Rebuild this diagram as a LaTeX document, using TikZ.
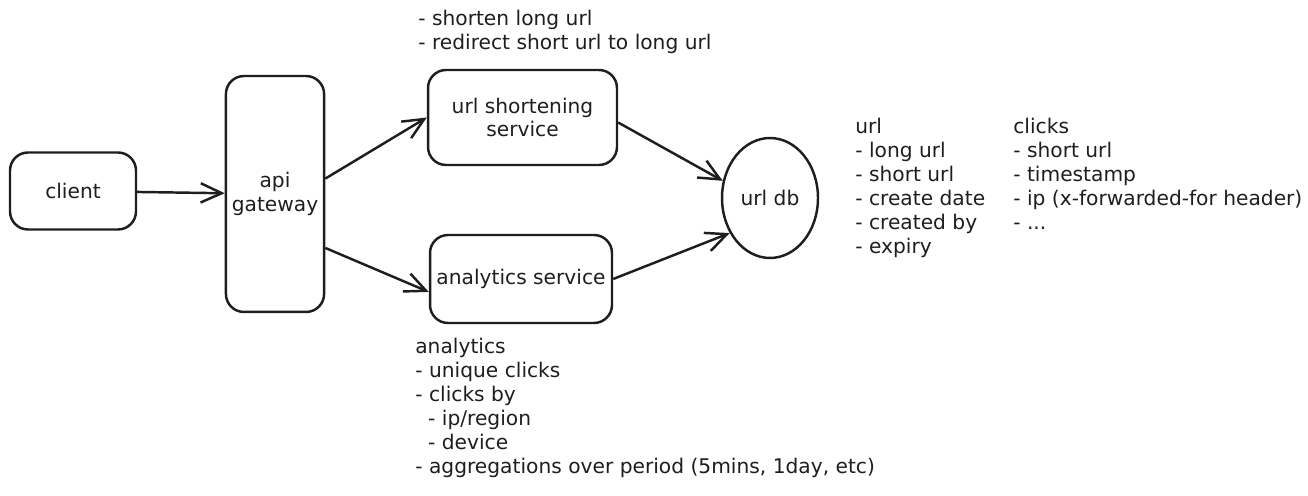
\documentclass[tikz,border=0pt]{standalone}
\usepackage{fontspec}
\setmainfont{DejaVu Sans}
\usepackage{xcolor}
\definecolor{netve}{HTML}{1E1E1E}
\def\mauve{netve}
\def\chu{\fontsize{11.5}{13.6}\selectfont}
\usetikzlibrary{arrows.meta,shapes.geometric,positioning}

\begin{document}
\begin{tikzpicture}[x=0.02cm,y=-0.02cm,declare function={%
			bo=0.36cm;
			net=1.4pt;
		}
		]%
		\tikzset{
			hop/.style={draw=\mauve,line width=net,rounded corners=bo,align=center,font=\chu,text=\mauve},
			kho/.style={draw=\mauve,line width=net,ellipse,inner sep=0pt,font=\chu,text=\mauve},
			ghichu/.style={anchor=north west,inner sep=0pt,align=left,font=\chu,text=\mauve},
			muiten/.style={draw=\mauve,line width=net,-{Straight Barb[length=12pt,width=11pt,line width=net]}}
		}
		\useasboundingbox (0,0) rectangle (1308,496);
		%% cac khoi
		\node[hop,minimum width=2.52cm,minimum height=1.54cm] (client) at (73,191) {client};
		\node[hop,minimum width=1.88cm,minimum height=4.72cm] (gateway) at (275,194) {api\\gateway};
		\node[hop,minimum width=3.78cm,minimum height=1.9cm] (shortener) at (522.5,117.5) {url shortening\\service};
		\node[hop,minimum width=3.64cm,minimum height=1.76cm] (analytics) at (521,279) {analytics service};
		\node[kho,minimum width=1.92cm,minimum height=2.4cm] (urldb) at (770,198) {url db};
		%% ghi chu
		\node[ghichu] (notesh) at (418,10) {- shorten long url\\- redirect short url to long url};
		\node[ghichu] (noteurl) at (855,118) {url\\- long url\\- short url\\- create date\\- created by\\- expiry};
		\node[ghichu] (noteclk) at (1013,118) {clicks\\- short url\\- timestamp\\- ip (x-forwarded-for header)\\- ...};
		\node[ghichu] (notean) at (415,338) {analytics\\- unique clicks\\- clicks by\\\ \ - ip/region\\\ \ - device\\- aggregations over period (5mins, 1day, etc)};
		%% mui ten
		\draw[muiten] (client) -- (gateway);
		\draw[muiten] (gateway.17) -- (shortener.west);
		\draw[muiten] (gateway.-47) -- (analytics.188);
		\draw[muiten] (shortener.-3) -- (urldb.160);
		\draw[muiten] (analytics.east) -- (urldb.221);
	\end{tikzpicture}
\end{document}
